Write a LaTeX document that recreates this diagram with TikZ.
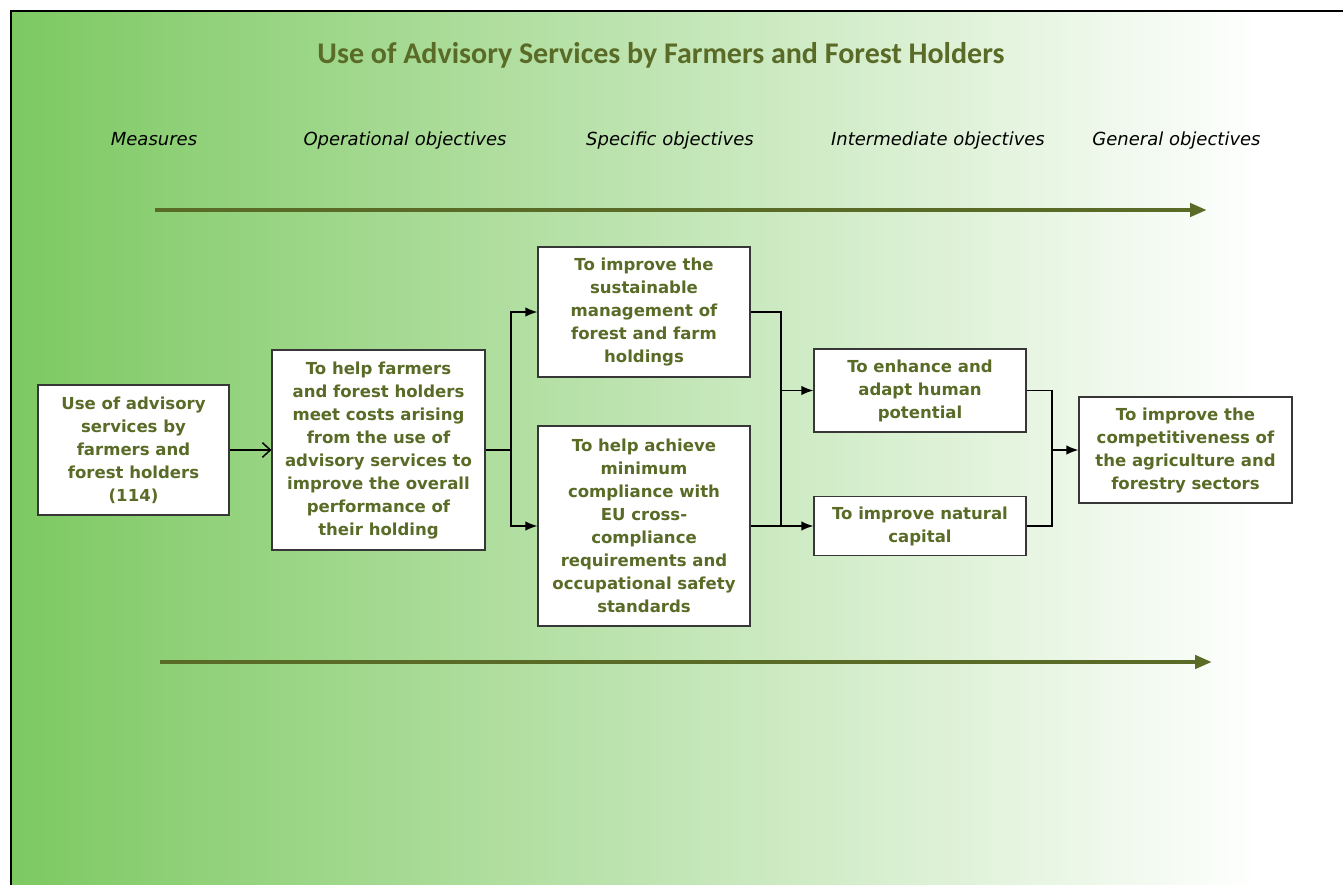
\documentclass[tikz,border=0pt]{standalone}
\usepackage{fontspec}
\setmainfont{DejaVu Sans}
\newfontfamily\titlefont{Carlito}
\usetikzlibrary{arrows.meta}
\definecolor{bgleft}{RGB}{125,201,98}
\definecolor{olive}{RGB}{89,107,38}
\definecolor{boxline}{RGB}{55,55,55}
\pgfdeclarehorizontalshading{bgfade}{100bp}{color(0bp)=(bgleft); color(25bp)=(bgleft); color(72bp)=(white); color(100bp)=(white)}
\begin{document}
\begin{tikzpicture}[x=0.75pt,y=-0.75pt,>={Latex[length=9pt,width=7pt]},
    box/.style={draw=boxline,line width=0.8pt,fill=white,inner sep=0pt,align=center,text=olive,
        font=\fontsize{12.4}{17.25}\selectfont\bfseries},
    head/.style={anchor=base,font=\fontsize{13.5}{16}\selectfont\itshape},
    link/.style={line width=1.1pt},
    bigarrow/.style={draw=olive,line width=3.2pt,-{Triangle[length=12.75pt,width=9.75pt]}}]
    \useasboundingbox (0,0) rectangle (1343,885);
    \shade[shading=bgfade] (12,12) rectangle (1343,885);
    \draw[line width=1.8pt] (1343,11) -- (11,11) -- (11,885);
    % title and column heads
    \node[anchor=base,text=olive,font=\titlefont\fontsize{22.5}{26}\selectfont\bfseries] (title) at (661,63) {Use of Advisory Services by Farmers and Forest Holders};
    \node[head] (hm) at (154,145) {Measures};
    \node[head] (ho) at (405,145) {Operational objectives};
    \node[head] (hs) at (670,145) {Specific objectives};
    \node[head] (hi) at (938,145) {Intermediate objectives};
    \node[head] (hg) at (1176.5,145) {General objectives};
    \coordinate (t0) at (155,210);
    \coordinate (t1) at (1207,210);
    \coordinate (b0) at (160,662);
    \coordinate (b1) at (1212,662);
    \draw[bigarrow] (t0) -- (t1);
    \draw[bigarrow] (b0) -- (b1);
    % boxes
    \node[box,minimum width=143.25pt,minimum height=97.5pt] (A) at (133.5,450) {Use of advisory\\services by\\farmers and\\forest holders\\(114)};
    \node[box,minimum width=159.75pt,minimum height=150pt] (B) at (378.5,450) {To help farmers\\and forest holders\\meet costs arising\\from the use of\\advisory services to\\improve the overall\\performance of\\their holding};
    \node[box,minimum width=159pt,minimum height=97.5pt] (C1) at (644,312) {To improve the\\sustainable\\management of\\forest and farm\\holdings};
    \node[box,minimum width=159pt,minimum height=150pt] (C2) at (644,526) {To help achieve\\minimum\\compliance with\\EU cross-\\compliance\\requirements and\\occupational safety\\standards};
    \node[box,minimum width=159pt,minimum height=62.25pt] (D1) at (920,390.5) {To enhance and\\adapt human\\potential};
    \node[box,minimum width=159pt,minimum height=44.25pt] (D2) at (920,526) {To improve natural\\capital};
    \node[box,minimum width=159.75pt,minimum height=79.5pt] (E) at (1185.5,450) {To improve the\\competitiveness of\\the agriculture and\\forestry sectors};
    % links
    \coordinate (j1) at (511,450);
    \coordinate (j2) at (781,390.5);
    \coordinate (j3) at (1052,450);
    \draw[link,-{Straight Barb[length=6pt,width=11pt]}] (A) -- (B);
    \draw[link] (B) -- (j1);
    \draw[link,->] (j1) |- (C1);
    \draw[link,->] (j1) |- (C2);
    \draw[link,->] (C1) -| (j2) -- (D1);
    \draw[link] (j2) -- (j2 |- C2);
    \draw[link,->] (C2) -- (D2);
    \draw[link] (D1) -| (j3);
    \draw[link] (D2) -| (j3);
    \draw[link,->] (j3) -- (E);
\end{tikzpicture}
\end{document}
